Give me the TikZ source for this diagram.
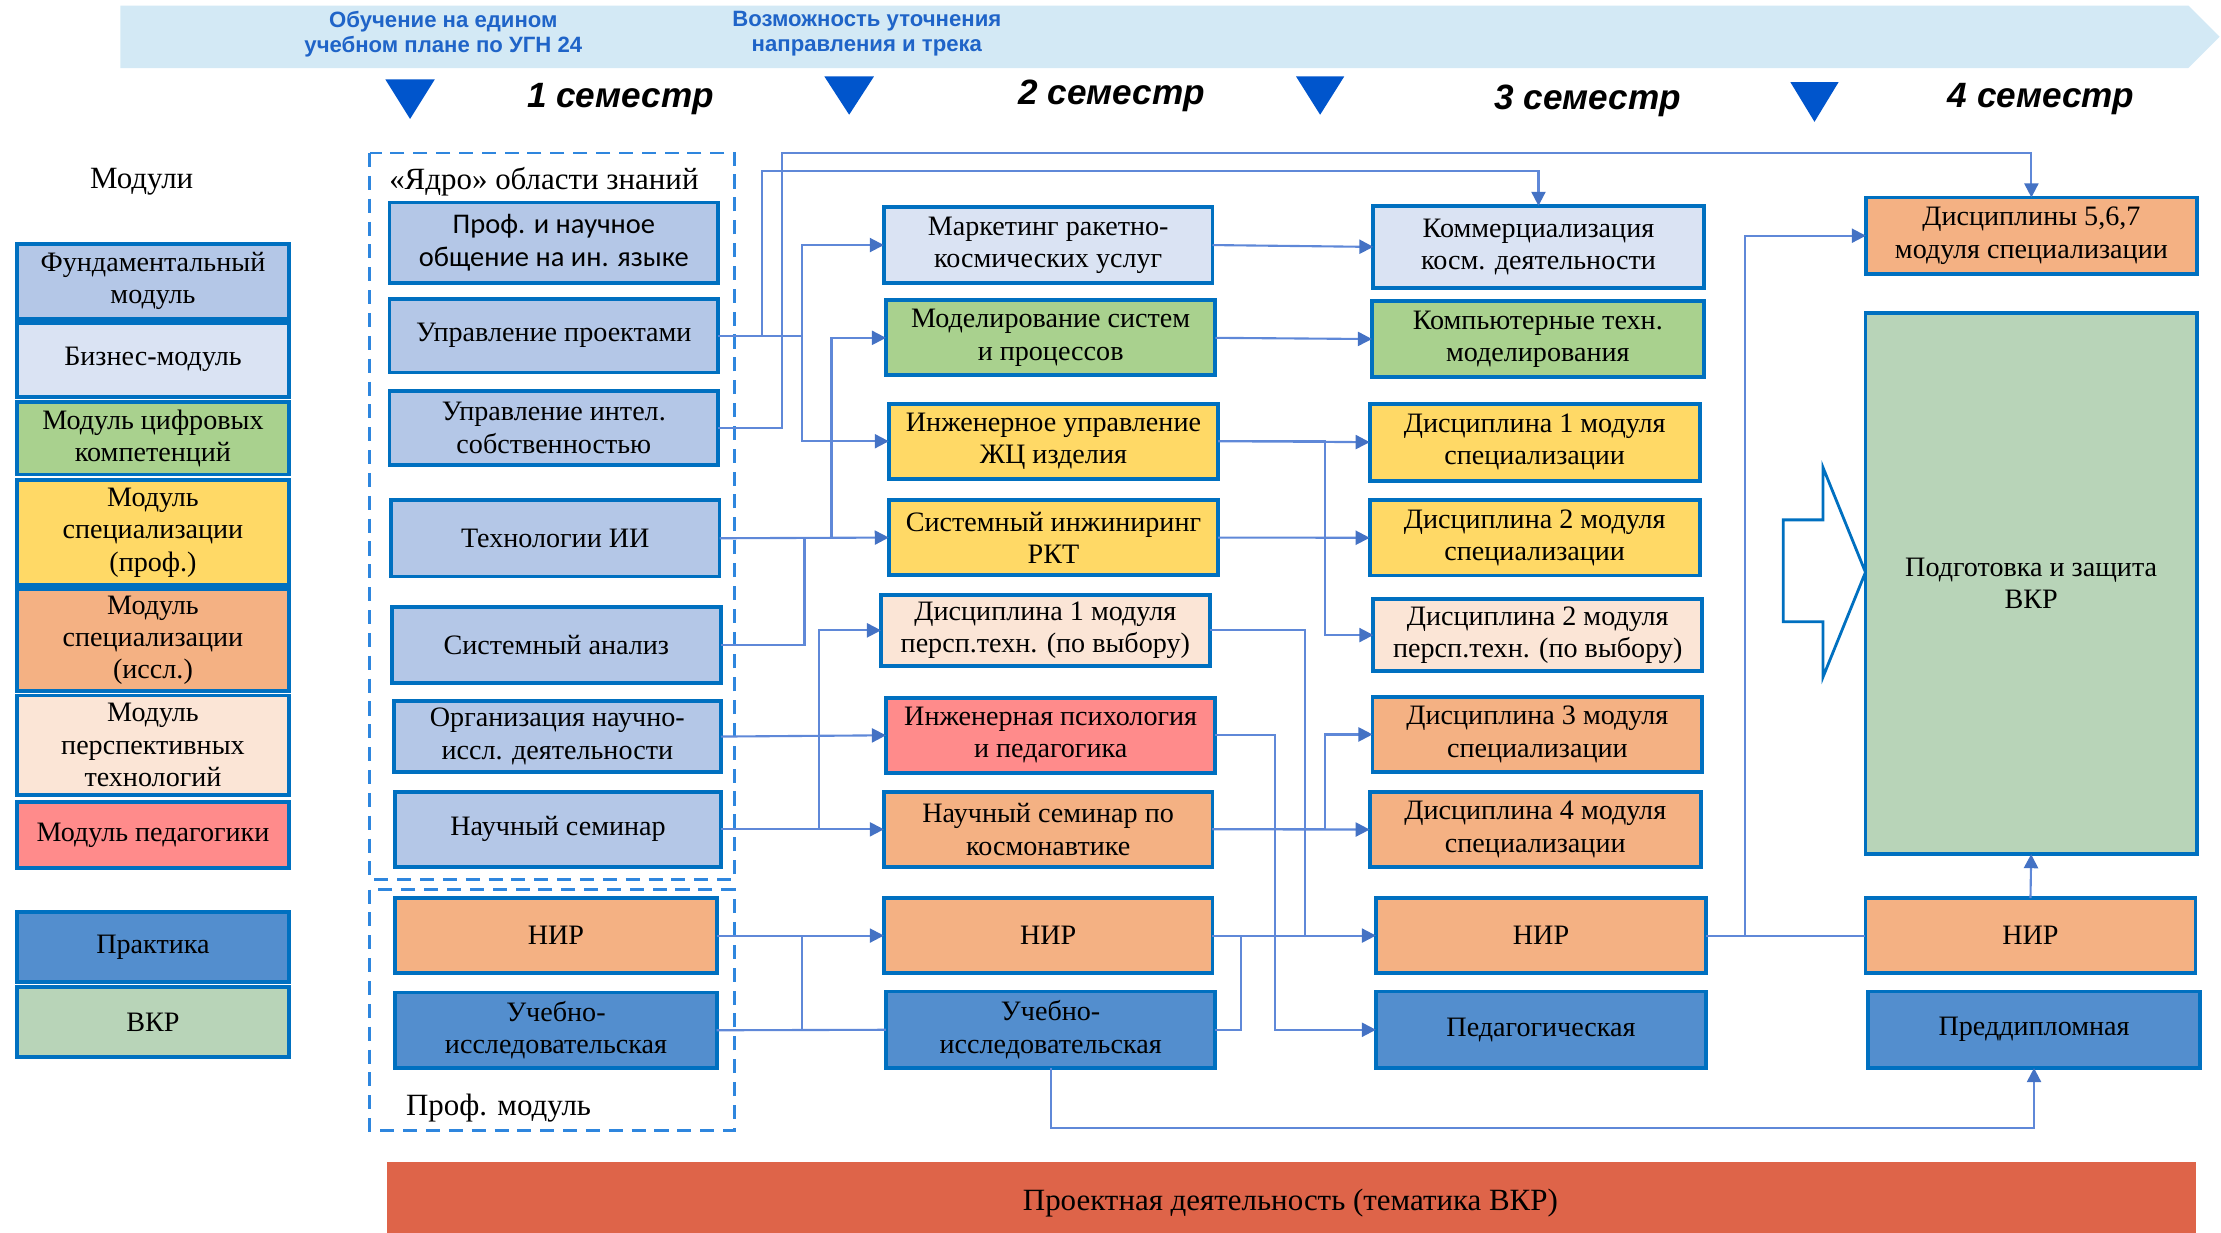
\documentclass[tikz,border=0pt]{standalone}
\usepackage{fontspec}
\setmainfont{Liberation Serif}
\newfontfamily\carl{Carlito}
\newfontfamily\hsans{Liberation Sans}
\usetikzlibrary{arrows.meta,calc}
\definecolor{fund}{HTML}{B4C7E7}
\definecolor{biz}{HTML}{DAE3F3}
\definecolor{dig}{HTML}{A9D18E}
\definecolor{spp}{HTML}{FFD966}
\definecolor{spi}{HTML}{F4B183}
\definecolor{persp}{HTML}{FBE5D6}
\definecolor{pedc}{HTML}{FF8B8B}
\definecolor{prac}{HTML}{538ECE}
\definecolor{vkrc}{HTML}{B8D4B8}
\definecolor{bord}{HTML}{0070C0}
\definecolor{barc}{HTML}{DE6449}
\definecolor{bann}{HTML}{D3E9F5}
\definecolor{headblue}{HTML}{1F64C8}
\definecolor{tric}{HTML}{0055CC}
\definecolor{lnc}{HTML}{5F88D8}
\definecolor{arrc}{HTML}{4472C4}
\definecolor{dashc}{HTML}{2E86DE}
% \bx[options]{name}{x1}{y1}{x2}{y2}{fill}{text}
\newcommand\bx[8][]{%
  \pgfmathsetmacro\bxw{(#5-#3)*0.014165}%
  \pgfmathsetmacro\bxh{(#6-#4)*0.014165}%
  \node[box,fill=#7,minimum width=\bxw cm,minimum height=\bxh cm,#1] (#2) at ({(#3+#5)/2},{(#4+#6)/2}) {#8};}
\begin{document}
\begin{tikzpicture}[x=0.014165cm,y=-0.014165cm,
  box/.style={draw=bord, line width=1.1pt, inner sep=0pt, outer sep=0pt, align=center,
    font=\fontsize{8}{9.2}\selectfont, text=black},
  lbl/.style={font=\fontsize{8.8}{10}\selectfont, inner sep=0pt},
  hdr/.style={font=\hsans\bfseries\fontsize{6.3}{7.2}\selectfont, text=headblue, align=center, inner sep=0pt},
  sem/.style={font=\hsans\bfseries\itshape\fontsize{10}{12}\selectfont, inner sep=0pt},
  tri/.style={fill=tric},
  ln/.style={draw=lnc, line width=0.6pt},
  arr/.style={draw=lnc, line width=0.6pt, -{Triangle[length=4pt,width=4pt,color=arrc]}},
  frame/.style={draw=dashc, line width=0.8pt, dash pattern=on 4pt off 2.5pt}]
\useasboundingbox (0,0) rectangle (1568,870);
% banner
\fill[bann] (85,4) -- (1545,4) -- (1567,26) -- (1545,48) -- (85,48) -- cycle;
\node[hdr] (h1) at (313,24) {Обучение на едином\\учебном плане по УГН 24};
\node[hdr] (h2) at (612,24) {Возможность уточнения\\направления и трека};
% triangles
\fill[tri] (272,56) -- (307,56) -- (289.5,84) -- cycle;
\fill[tri] (582,54) -- (617,54) -- (599.5,81) -- cycle;
\fill[tri] (915,54) -- (949,54) -- (932,81) -- cycle;
\fill[tri] (1264,58) -- (1298,58) -- (1281,86) -- cycle;
\node[sem] (s1) at (438,70) {1 семестр};
\node[sem] (s2) at (785,68) {2 семестр};
\node[sem] (s3) at (1121,71) {3 семестр};
\node[sem] (s4) at (1441,70) {4 семестр};
% legend
\node[lbl] (lmod) at (100,128) {Модули};
\bx{lfund}{12}{172}{204}{225}{fund}{Фундаментальный\\модуль}
\bx{lbiz}{12}{228}{204}{280}{biz}{Бизнес-модуль}
\bx{ldig}{12}{284}{204}{335}{dig}{Модуль цифровых\\компетенций}
\bx{lspp}{12}{339}{204}{413}{spp}{Модуль\\специализации\\(проф.)}
\bx{lspi}{12}{416}{204}{488}{spi}{Модуль\\специализации\\(иссл.)}
\bx{lper}{12}{491}{204}{561}{persp}{Модуль\\перспективных\\технологий}
\bx{lped}{12}{566}{204}{613}{pedc}{Модуль педагогики}
\bx{lpra}{12}{644}{204}{693}{prac}{Практика}
\bx{lvkr}{12}{697}{204}{746}{vkrc}{ВКР}
% frames
\draw[frame] (261,108) rectangle (518.5,621);
\draw[frame] (261,628) rectangle (518.5,798);
\node[lbl] (core) at (384,128) {«Ядро» области знаний};
\node[lbl] (profmod) at (352,782) {Проф. модуль};
% column 1
\bx[font=\carl\fontsize{8.1}{9.3}\selectfont]{prof}{275}{143}{507}{200}{fund}{Проф. и научное\\общение на ин. языке}
\bx{upr}{275}{211}{507}{263}{fund}{Управление проектами}
\bx{intel}{275}{276}{507}{328}{fund}{Управление интел.\\собственностью}
\bx{ii}{276}{353}{508}{407}{fund}{Технологии ИИ}
\bx{sa}{276.5}{428.5}{509}{482}{fund}{Системный анализ}
\bx{org}{278}{495}{509}{545}{fund}{Организация научно-\\иссл. деятельности}
\bx{ns}{279}{559}{509}{612}{fund}{Научный семинар}
\bx{nir1}{279}{634}{506}{687}{spi}{НИР}
\bx{uch1}{279}{700.7}{506}{754}{prac}{Учебно-\\исследовательская}
% column 2
\bx{mkt}{624}{146}{856}{200}{biz}{Маркетинг ракетно-\\космических услуг}
\bx{mod}{625.5}{212}{858}{265}{dig}{Моделирование систем\\и процессов}
\bx{zhc}{627.5}{285}{860}{338}{spp}{Инженерное управление\\ЖЦ изделия}
\bx{si}{627.5}{353}{860}{406}{spp}{Системный инжиниринг\\РКТ}
\bx{dp1}{622}{420}{854}{470}{persp}{Дисциплина 1 модуля\\персп.техн. (по выбору)}
\bx{ip}{625.5}{492.5}{858}{545.7}{pedc}{Инженерная психология\\и педагогика}
\bx{nsk}{624}{559}{856}{612}{spi}{Научный семинар по\\космонавтике}
\bx{nir2}{624}{634}{856}{687}{spi}{НИР}
\bx{uch2}{625.5}{700}{858}{754}{prac}{Учебно-\\исследовательская}
% column 3
\bx{kom}{969.6}{145.3}{1202.7}{203.3}{biz}{Коммерциализация\\косм. деятельности}
\bx{komp}{968.6}{212.3}{1202.7}{266.4}{dig}{Компьютерные техн.\\моделирования}
\bx{d1s}{967}{285}{1200}{339.3}{spp}{Дисциплина 1 модуля\\специализации}
\bx{d2s}{967}{353}{1200}{406.3}{spp}{Дисциплина 2 модуля\\специализации}
\bx{dp2}{969.6}{423}{1201.7}{473.7}{persp}{Дисциплина 2 модуля\\персп.техн. (по выбору)}
\bx{d3}{969}{492}{1201.7}{545}{spi}{Дисциплина 3 модуля\\специализации}
\bx{d4}{967}{559}{1200.8}{612.3}{spi}{Дисциплина 4 модуля\\специализации}
\bx{nir3}{971.4}{634}{1204.5}{687}{spi}{НИР}
\bx{ped}{971.4}{700}{1204.5}{754}{prac}{Педагогическая}
% column 4
\bx{d567}{1317.3}{139.4}{1551}{193.4}{spi}{Дисциплины 5,6,7\\модуля специализации}
\bx{vkr}{1317}{221}{1551}{603}{vkrc}{Подготовка и защита\\ВКР}
\bx{nir4}{1317}{634}{1550}{687}{spi}{НИР}
\bx{pred}{1319}{700}{1553}{754}{prac}{Преддипломная}
% hollow arrow
\draw[draw=bord, line width=0.8pt, fill=white] (1259,367) -- (1287,367) -- (1287,330) -- (1317,404) -- (1287,478) -- (1287,439) -- (1259,439) -- cycle;
% bottom bar
\fill[barc] (273,820) rectangle (1550,872);
\node[lbl] (proj) at (911,849) {Проектная деятельность (тематика ВКР)};
% bus coordinates
\coordinate (x566) at (566,0);
\coordinate (x568) at (568,0);
\coordinate (x578) at (578,0);
\coordinate (x587) at (587,0);
\coordinate (x876) at (876,0);
\coordinate (x900) at (900,0);
\coordinate (x921) at (921,0);
\coordinate (x935) at (935.5,0);
\coordinate (x1232) at (1232,0);
% connectors
\draw[arr] (upr.east) -| (538,120.5) -| (kom.north);
\draw[arr] (intel.east) -| (552,108) -| (d567.north);
\draw[arr] (upr.east) -| (x566 |- mkt.west) -- (mkt.west);
\draw[arr] (upr.east) -| (x566 |- zhc.west) -- (zhc.west);
\draw[arr] (ii.east) -- (si.west);
\draw[arr] (ii.east) -| (x587 |- mod.west) -- (mod.west);
\draw[ln] (sa.east) -| (x568 |- si.west);
\draw[arr] (org.east) -- (ip.west);
\draw[arr] (ns.east) -- (nsk.west);
\draw[arr] (ns.east) -| (x578 |- dp1.west) -- (dp1.west);
\draw[arr] (nir1.east) -- (nir2.west);
\draw[ln] (uch1.east) -- (uch2.west);
\draw[ln] (uch1.east) -| (x566 |- nir2.west);
\draw[arr] (nir2.east) -- (nir3.west);
\draw[ln] (uch2.east) -| (x876 |- nir3.west);
\draw[arr] (uch2.south) -- ++(0,42.5) -| (pred.south);
\draw[arr] (ip.east) -| (x900 |- ped.west) -- (ped.west);
\draw[ln] (dp1.east) -| (x921 |- nir3.west);
\draw[arr] (nsk.east) -- (d4.west);
\draw[arr] (nsk.east) -| (x935 |- d3.west) -- (d3.west);
\draw[arr] (zhc.east) -- (d1s.west);
\draw[arr] (zhc.east) -| (x935 |- dp2.west) -- (dp2.west);
\draw[arr] (si.east) -- (d2s.west);
\draw[arr] (mkt.east) -- (kom.west);
\draw[arr] (mod.east) -- (komp.west);
\draw[ln] (nir3.east) -- (nir4.west);
\draw[arr] (nir3.east) -| (x1232 |- d567.west) -- (d567.west);
\draw[arr] (nir4.north) -- (vkr.south);
\end{tikzpicture}
\end{document}
